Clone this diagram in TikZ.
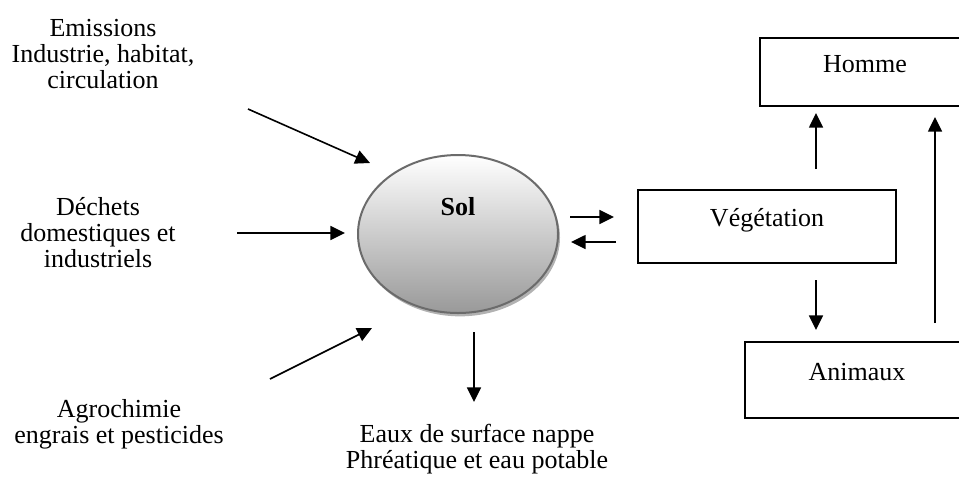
\documentclass[tikz,border=0pt]{standalone}
\usepackage{fontspec}
\setmainfont{Liberation Serif}
\usetikzlibrary{shapes.geometric,shadows,arrows.meta}

\begin{document}
\begin{tikzpicture}[
  x=0.75pt,y=-0.75pt,
  font=\fontsize{19.5pt}{19.5pt}\selectfont,
  txt/.style={align=center,inner sep=0},
  box/.style={draw,line width=1.3pt,text height=12pt,text depth=12pt,inner sep=0},
  soil/.style={ellipse,draw=black!58,line width=1.5pt,top color=white,bottom color=gray!80,
    minimum width=150pt,minimum height=118.5pt,inner sep=0,
    drop shadow={shadow xshift=1.5pt,shadow yshift=-2.5pt,fill=black!30,opacity=1}},
  arr/.style={line width=1.2pt,-{Triangle[length=11pt,width=10.5pt]}},
]
  \useasboundingbox (0,0) rectangle (959,480);
  \clip (0,0) rectangle (959,480);

  \node[soil] (sol) at (458,234) {};
  \node[font=\fontsize{19.5pt}{19.5pt}\selectfont\bfseries] (soltxt) at (458,207) {Sol};

  \node[box,minimum width=157.5pt,minimum height=51pt] (homme) at (865,72) {Homme};
  \node[box,minimum width=193.5pt,minimum height=54.75pt] (veg) at (767,226.5) {Végétation};
  \node[box,minimum width=168pt,minimum height=57pt] (anim) at (857,380) {Animaux};

  \node[txt] (emis) at (103,54) {Emissions\\Industrie, habitat,\\circulation};
  \node[txt] (dech) at (98,233) {Déchets\\domestiques et\\industriels};
  \node[txt] (agro) at (119,424) {Agrochimie\\engrais et pesticides};
  \node[txt] (eaux) at (477,449) {Eaux de surface nappe\\Phréatique et eau potable};

  \coordinate (emisA) at (248,109);
  \coordinate (emisB) at (370,163);
  \coordinate (dechA) at (237,233);
  \coordinate (dechB) at (345,233);
  \coordinate (agroA) at (270,379);
  \coordinate (agroB) at (372,328);
  \coordinate (eauxA) at (474,332);
  \coordinate (eauxB) at (474,402);
  \coordinate (solout) at (570,217);
  \coordinate (vegin) at (614,217);
  \coordinate (vegout) at (616,242);
  \coordinate (solin) at (571,242);
  \coordinate (vhA) at (816,169);
  \coordinate (vhB) at (816,113);
  \coordinate (vaA) at (816,280);
  \coordinate (vaB) at (816,330);
  \coordinate (ahA) at (935,323);
  \coordinate (ahB) at (935,117);

  \draw[arr] (emisA) -- (emisB);
  \draw[arr] (dechA) -- (dechB);
  \draw[arr] (agroA) -- (agroB);
  \draw[arr] (eauxA) -- (eauxB);
  \draw[arr] (solout) -- (vegin);
  \draw[arr] (vegout) -- (solin);
  \draw[arr] (vhA) -- (vhB);
  \draw[arr] (vaA) -- (vaB);
  \draw[arr] (ahA) -- (ahB);
\end{tikzpicture}
\end{document}
